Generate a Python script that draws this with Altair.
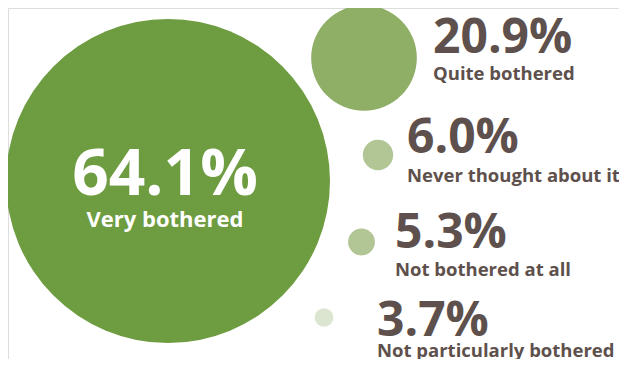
import altair as alt
import pandas as pd

# ---- data ----
labels = ["Very bothered", "Quite bothered", "Never thought about it",
          "Not bothered at all", "Not particularly bothered"]
values = [64.1, 20.9, 6.0, 5.3, 3.7]

# ---- layout (chart pixel coordinates, not data) ----
circle_x = [160, 356, 370, 353.5, 316]
circle_y = [173, 50, 147, 234, 309.5]
text_x = [157, 425, 399, 387, 369]
pct_y = [187, 45, 145, 240, 328]
lab_y = [219, 72, 174, 268, 349]
fills = ["#6E9C40", "#8FAE66", "#B1C595", "#B1C595", "#DCE5D0"]

W, H = 611, 351

df = pd.DataFrame({
    "label": labels,
    "value": values,
    "pct": [f"{v:.1f}%" for v in values],
    "cx": circle_x, "cy": circle_y,
    "tx": text_x, "py": pct_y, "ly": lab_y,
    "rank": list(range(len(values))),
})

xs = alt.Scale(domain=[0, W], range=[0, W], zero=False, nice=False)
ys = alt.Scale(domain=[0, H], range=[0, H], zero=False, nice=False)

base = alt.Chart(df)

circles = base.mark_circle(opacity=1).encode(
    x=alt.X("cx:Q", scale=xs, axis=None),
    y=alt.Y("cy:Q", scale=ys, axis=None),
    size=alt.Size("value:Q", scale=alt.Scale(type="pow", exponent=2, domain=[0, 64.1], range=[0, 324 * 324]), legend=None),
    color=alt.Color("label:N", scale=alt.Scale(domain=labels, range=fills), legend=None),
)

FONT = "Open Sans"
TXT = "#5E504C"

big_pct = base.transform_filter("datum.rank == 0").mark_text(
    font=FONT, fontWeight="bold", fontSize=64, color="white", align="center", baseline="alphabetic"
).encode(x=alt.X("tx:Q", scale=xs), y=alt.Y("py:Q", scale=ys), text="pct:N")

big_lab = base.transform_filter("datum.rank == 0").mark_text(
    font=FONT, fontWeight="bold", fontSize=22, color="white", align="center", baseline="alphabetic"
).encode(x=alt.X("tx:Q", scale=xs), y=alt.Y("ly:Q", scale=ys), text="label:N")

sm_pct = base.transform_filter("datum.rank > 0").mark_text(
    font=FONT, fontWeight="bold", fontSize=48, color=TXT, align="left", baseline="alphabetic"
).encode(x=alt.X("tx:Q", scale=xs), y=alt.Y("py:Q", scale=ys), text="pct:N")

sm_lab = base.transform_filter("datum.rank > 0").mark_text(
    font=FONT, fontWeight="bold", fontSize=18.5, color=TXT, align="left", baseline="alphabetic"
).encode(x=alt.X("tx:Q", scale=xs), y=alt.Y("ly:Q", scale=ys), text="label:N")

chart = alt.layer(circles, big_pct, big_lab, sm_pct, sm_lab).properties(
    width=W, height=H, autosize=alt.AutoSizeParams(type="none"), padding=0
).configure_view(stroke=None, clip=False).configure(background="white")

chart.save("out.html", embed_options={"renderer": "svg", "actions": False})
